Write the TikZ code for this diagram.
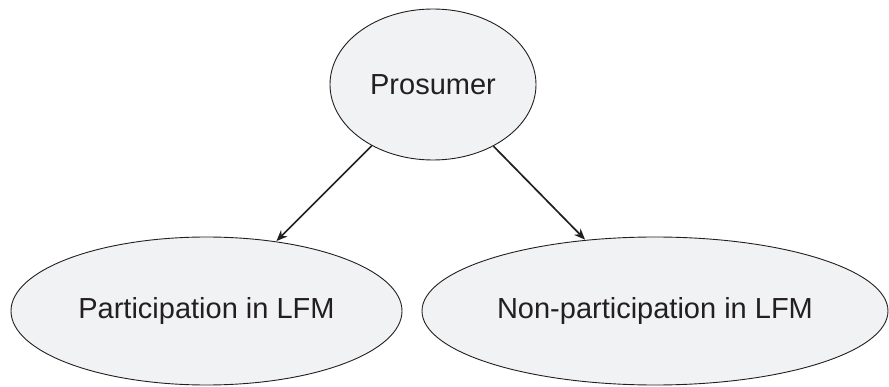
\documentclass[tikz,border=0pt]{standalone}
\usepackage{fontspec}
\setmainfont{Liberation Sans}
\usetikzlibrary{shapes.geometric,arrows.meta}
\definecolor{bubblefill}{HTML}{F1F2F4}
\definecolor{inkline}{HTML}{231F20}
\tikzset{
  bubble/.style={ellipse, draw=inkline, line width=0.9pt, fill=bubblefill,
    inner sep=0pt, text=inkline, font=\fontsize{29}{33}\selectfont},
  link/.style={draw=inkline, line width=1.7pt,
    -{Stealth[length=11pt,width=9pt,inset=3.5pt]}, shorten >=0.5pt}
}
\begin{document}
\begin{tikzpicture}[x=1pt,y=-1pt]
  \useasboundingbox (0,0) rectangle (889,387);
  % root and its two outcomes
  \node[bubble, minimum width=206pt, minimum height=151pt] (pro) at (433,84.5) {Prosumer};
  \node[bubble, minimum width=391pt, minimum height=148pt] (part) at (206.5,311) {Participation in LFM};
  \node[bubble, minimum width=466pt, minimum height=148pt] (nonpart) at (655,311) {Non-participation in LFM};
  % branches
  \draw[link] (pro) -- (part);
  \draw[link] (pro) -- (nonpart);
\end{tikzpicture}
\end{document}
